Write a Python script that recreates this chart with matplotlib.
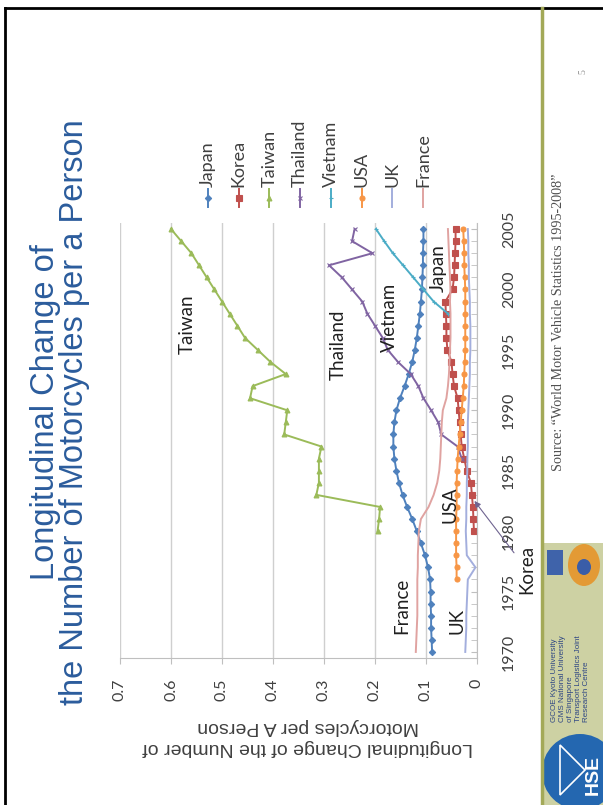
import matplotlib
matplotlib.use("Agg")
import matplotlib.pyplot as plt
from matplotlib.lines import Line2D
from matplotlib.patches import Rectangle, Ellipse, Polygon

plt.rcParams["font.family"] = ["Lato", "DejaVu Sans"]

W, H = 603, 805

# ---- data (motorcycles per person) ----
japan_years = list(range(1970, 2006))
japan = [0.088, 0.089, 0.090, 0.090, 0.091, 0.091, 0.092, 0.096, 0.102, 0.110,
         0.118, 0.127, 0.137, 0.146, 0.153, 0.158, 0.162, 0.164, 0.164, 0.162,
         0.158, 0.151, 0.142, 0.134, 0.127, 0.122, 0.118, 0.115, 0.112, 0.110,
         0.108, 0.107, 0.106, 0.106, 0.105, 0.105]

korea_years = list(range(1980, 2006))
korea = [0.006, 0.007, 0.008, 0.010, 0.012, 0.020, 0.025, 0.030, 0.032, 0.034,
         0.036, 0.038, 0.045, 0.048, 0.050, 0.058, 0.060, 0.060, 0.061, 0.062,
         0.048, 0.045, 0.044, 0.043, 0.042, 0.042]

taiwan_years = list(range(1980, 2006))
taiwan = [0.195, 0.192, 0.190, 0.315, 0.310, 0.310, 0.310, 0.305,
          0.378, 0.375, 0.372, 0.445, 0.440, 0.375, 0.405, 0.430, 0.455, 0.470,
          0.485, 0.500, 0.515, 0.530, 0.545, 0.560, 0.580, 0.600]

thailand_years = list(range(1986, 2006))
thailand = [0.030, 0.038, 0.070, 0.076, 0.090, 0.105, 0.115, 0.130, 0.155, 0.175,
            0.185, 0.200, 0.215, 0.225, 0.245, 0.265, 0.290, 0.205, 0.245, 0.240]

vietnam_years = list(range(1998, 2006))
vietnam = [0.057, 0.085, 0.105, 0.125, 0.145, 0.165, 0.182, 0.198]

usa_years = list(range(1976, 2006))
usa = [0.040, 0.040, 0.041, 0.041, 0.041, 0.041, 0.040, 0.040, 0.040, 0.039, 0.038, 0.036,
       0.034, 0.032, 0.030, 0.028, 0.026, 0.025, 0.024, 0.023, 0.023, 0.023,
       0.023, 0.023, 0.023, 0.024, 0.025, 0.025, 0.026, 0.027]

uk_years = list(range(1970, 2006))
uk = [0.023, 0.022, 0.021, 0.021, 0.020, 0.019, 0.018, 0.003, 0.020, 0.021,
      0.022, 0.021, 0.021, 0.020, 0.020, 0.019, 0.019, 0.018, 0.018, 0.018,
      0.017, 0.016, 0.015, 0.014, 0.014, 0.013, 0.013, 0.013, 0.014, 0.014,
      0.015, 0.016, 0.016, 0.017, 0.017, 0.018]

france_years = list(range(1970, 2006))
france = [0.120, 0.119, 0.118, 0.117, 0.117, 0.117, 0.117, 0.116, 0.116, 0.115,
          0.114, 0.110, 0.095, 0.085, 0.078, 0.074, 0.072, 0.071, 0.070, 0.069,
          0.067, 0.060, 0.057, 0.055, 0.054, 0.053, 0.052, 0.052, 0.052, 0.053,
          0.052, 0.053, 0.054, 0.055, 0.056, 0.057]

names = ["Japan", "Korea", "Taiwan", "Thailand", "Vietnam", "USA", "UK", "France"]
series_years = [japan_years, korea_years, taiwan_years, thailand_years,
                vietnam_years, usa_years, uk_years, france_years]
series_vals = [japan, korea, taiwan, thailand, vietnam, usa, uk, france]
colors = ["#4F81BD", "#C0504D", "#9BBB59", "#8064A2", "#4BACC6", "#F79646",
          "#A3AEDD", "#E0A3A1"]
markers = ["D", "s", "^", "x", "+", "o", None, None]
msizes = [3.2, 4.2, 3.5, 2.5, 2.5, 3.6, 0, 0]

value_ticks = [0.7, 0.6, 0.5, 0.4, 0.3, 0.2, 0.1, 0.0]
value_labels = ["0.7", "0.6", "0.5", "0.4", "0.3", "0.2", "0.1", "0"]
year_ticks = list(range(1970, 2006, 5))

# in-plot labels: (text, value, year)
labels_in_plot = [("Taiwan", 0.569, 1997.1), ("Thailand", 0.273, 1995.4),
                  ("Vietnam", 0.171, 1997.7), ("Japan", 0.076, 2001.8),
                  ("USA", 0.053, 1982.2), ("France", 0.147, 1973.8),
                  ("UK", 0.039, 1972.6)]


def fx(x):
    return x / W


def fy(y):
    return 1 - y / H


fig = plt.figure(figsize=(W / 100, H / 100), dpi=100)
fig.patch.set_facecolor("white")

# slide frame
fig.add_artist(Line2D([fx(5), fx(603)], [fy(8), fy(8)], color="black", lw=2))
fig.add_artist(Line2D([fx(5), fx(5)], [fy(8), fy(805)], color="black", lw=2))

# title (slide is rotated 90 degrees)
fig.text(fx(60), fy(412), "Longitudinal Change of\nthe Number of Motorcycles per a Person",
         rotation=90, ha="center", va="center", multialignment="center",
         fontsize=23.5, linespacing=0.95, color="#2B5C9C", family="Liberation Sans")

ax = fig.add_axes([fx(120), fy(658), fx(477) - fx(120), (658 - 223) / H])

for yrs, vals, c, m, ms in zip(series_years, series_vals, colors, markers, msizes):
    ax.plot(vals, yrs, color=c, lw=1.4, marker=m, markersize=ms,
            markeredgewidth=0.8, clip_on=False)

ax.set_xlim(0.7, 0)
ax.set_ylim(1969.5, 2005.5)
ax.set_xticks(value_ticks)
ax.set_xticklabels(value_labels, rotation=90, fontsize=11.5, color="#404040")
ax.yaxis.tick_right()
ax.set_yticks(year_ticks)
ax.set_yticklabels([str(y) for y in year_ticks], rotation=90, fontsize=11.5,
                   color="#404040", va="center")
ax.set_yticks(range(1970, 2006), minor=True)
ax.tick_params(axis="x", length=4, color="#BFBFBF", pad=11)
ax.tick_params(axis="y", which="both", direction="in", length=4, color="#BFBFBF", pad=18)
ax.xaxis.grid(True, color="#CFCFCF", lw=1)
ax.set_axisbelow(True)
for s in ["top", "left"]:
    ax.spines[s].set_visible(False)
for s in ["right", "bottom"]:
    ax.spines[s].set_color("#BFBFBF")

for txt, v, yr in labels_in_plot:
    ax.text(v, yr, txt, rotation=90, ha="center", va="center", fontsize=13.5, color="#202020")

ax.annotate("Korea", xy=(0.005, 1982.5), xytext=(-0.098, 1976.8), rotation=90,
            ha="center", va="center", fontsize=13.5, color="#202020",
            annotation_clip=False,
            arrowprops=dict(arrowstyle="-|>", color="#6F6490", lw=0.8,
                            shrinkA=2, shrinkB=0, mutation_scale=9))

# axis title (upside down after rotation)
fig.text(fx(308), fy(737), "Longitudinal Change of the Number of\nMotorcycles per A Person",
         rotation=180, ha="center", va="center", multialignment="center",
         fontsize=14, linespacing=1.3, color="#404040", family="Liberation Sans")

# legend, drawn vertically
for i, (name, c, m, ms) in enumerate(zip(names, colors, markers, msizes)):
    lx = fx(208 + 30.7 * i)
    fig.add_artist(Line2D([lx, lx], [fy(207), fy(189)], color=c, lw=1.4))
    if m is not None:
        fig.add_artist(Line2D([lx], [fy(198)], color=c, marker=m, markersize=ms,
                              markeredgewidth=0.8))
    fig.text(lx, fy(187), name, rotation=90, ha="center", va="bottom",
             fontsize=13, color="#404040")

# footer strip (right side after rotation)
fig.add_artist(Rectangle((fx(542), 0), fx(603) - fx(542), fy(543), color="#CDD1A3", lw=0))
fig.add_artist(Line2D([fx(542), fx(542)], [fy(8), 0], color="#A3A958", lw=2.5))
fig.text(fx(559), fy(322), "Source: \u201cWorld Motor Vehicle Statistics 1995-2008\u201d",
         rotation=90, ha="center", va="center", fontsize=10.2, color="#505050",
         family="Liberation Serif")
fig.text(fx(583), fy(72), "5", rotation=90, ha="center", va="center",
         fontsize=7, color="#8C8C8C", family="Liberation Serif")

fig.add_artist(Rectangle((fx(547), fy(575)), fx(16), 25 / H, color="#3F63AA", lw=0))
fig.add_artist(Ellipse((fx(584), fy(565)), 32 / W, 42 / H, color="#E39A35", lw=0))
fig.add_artist(Ellipse((fx(584), fy(567)), 14 / W, 16 / H, color="#3A5DA8", lw=0))
footer_lines = ["GCOE Kyoto University", "CMS National University",
                "of Singapore", "Transport Logistics Joint", "Research Centre"]
for i, t in enumerate(footer_lines):
    fig.text(fx(554 + 8 * i), fy(722), t, rotation=90, ha="center", va="bottom",
             fontsize=5.8, color="#2E4684", family="Liberation Sans")
fig.add_artist(Ellipse((fx(580), fy(772)), 76 / W, 76 / H, color="#2467B0", lw=0))
fig.add_artist(Polygon([(fx(560), fy(795)), (fx(560), fy(745)), (fx(585), fy(770))],
                       closed=True, fill=False, edgecolor="white", lw=1.2))
fig.text(fx(593), fy(775), "HSE", rotation=90, ha="center", va="center",
         fontsize=14, fontweight="bold", color="white", family="Liberation Sans")

fig.savefig("out.png", dpi=100)
